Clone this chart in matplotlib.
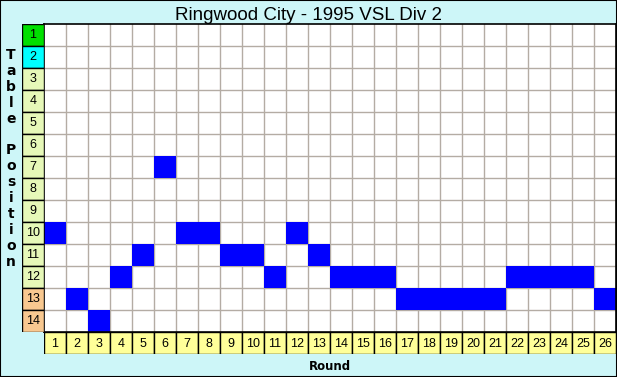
import matplotlib
matplotlib.use("Agg")
import matplotlib.pyplot as plt
from matplotlib.patches import Rectangle

title = "Ringwood City - 1995 VSL Div 2"
rounds = list(range(1, 27))
positions = [10, 13, 14, 12, 11, 7, 10, 10, 11, 11, 12, 10, 11, 12, 12, 12,
             13, 13, 13, 13, 13, 12, 12, 12, 12, 13]
table_positions = list(range(1, 15))
row_colors = ["#00e000", "#00ffff"] + ["#e6f8b8"] * 10 + ["#f8c890"] * 2
ylabel_text = "Table Position"
xlabel_text = "Round"

W, H = 617, 377
fig = plt.figure(figsize=(W / 100, H / 100), dpi=100)
fig.patch.set_facecolor("#cdf6f8")
fig.add_artist(Rectangle((0, 0), 1, 1, transform=fig.transFigure, fill=False,
                         edgecolor="black", linewidth=1.5))

def px_axes(x0, y0, x1, y1):
    return fig.add_axes([x0 / W, 1 - y1 / H, (x1 - x0) / W, (y1 - y0) / H])

n = len(rounds)
nr = len(table_positions)
gx0, gx1 = 44, 616
gy0, gy1 = 24, 332

ax = px_axes(gx0, gy0, gx1, gy1)
ax.set_facecolor("white")
ax.bar(rounds, 1, bottom=[p - 0.5 for p in positions], width=1.0,
       color="#0000ff", linewidth=0, zorder=2)
ax.set_xlim(0.5, n + 0.5)
ax.set_ylim(nr + 0.5, 0.5)
for x in range(1, n):
    ax.axvline(x + 0.5, color="#b4aca4", linewidth=1, zorder=1)
for y in range(1, nr):
    ax.axhline(y + 0.5, color="#b4aca4", linewidth=1, zorder=1)
ax.set_xticks([]); ax.set_yticks([])
for s in ax.spines.values():
    s.set_linewidth(1.2); s.set_color("black")

# Row label column
axl = px_axes(22, gy0, gx0, gy1)
axl.set_xlim(0, 1); axl.set_ylim(nr + 0.5, 0.5)
axl.barh(table_positions, 1, height=1.0, left=0, color=row_colors,
         edgecolor="black", linewidth=1)
for p in table_positions:
    axl.text(0.5, p, str(p), ha="center", va="center", fontsize=9,
             family="Liberation Sans")
axl.axis("off")

# Round label row
axb = px_axes(gx0, gy1, gx1, 354)
axb.set_xlim(0.5, n + 0.5); axb.set_ylim(0, 1)
axb.bar(rounds, 1, width=1.0, bottom=0, color="#ffff99", edgecolor="black",
        linewidth=1)
for r in rounds:
    axb.text(r, 0.45, str(r), ha="center", va="center", fontsize=9,
             family="Liberation Sans")
axb.axis("off")

fig.text(0.5, 1 - 15 / H, title, ha="center", va="center", fontsize=13.5,
         family="Liberation Sans")
fig.text((gx0 + gx1) / 2 / W, 1 - 366 / H, xlabel_text, ha="center",
         va="center", fontsize=8.5, fontweight="bold", family="DejaVu Sans")
for i, ch in enumerate(ylabel_text):
    if ch.strip():
        fig.text(11 / W, 1 - (55 + i * 15.9) / H, ch, ha="center",
                 va="center", fontsize=10, fontweight="bold",
                 family="DejaVu Sans")

fig.savefig("out.png", dpi=100, facecolor=fig.get_facecolor())
